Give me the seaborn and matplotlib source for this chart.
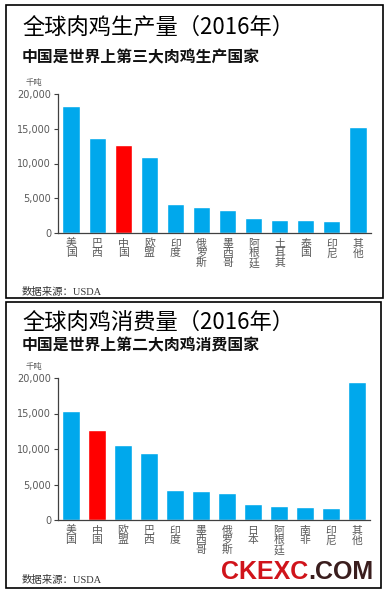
import matplotlib
matplotlib.use("Agg")
import matplotlib.pyplot as plt
import seaborn as sns
import numpy as np
from matplotlib.patches import Rectangle

sns.set_theme(style="white")
plt.rcParams['font.family'] = ['Noto Sans CJK SC', 'DejaVu Sans']

# ---- data ----
prod_cats = ["美国", "巴西", "中国", "欧盟", "印度", "俄罗斯", "墨西哥", "阿根廷", "土耳其", "泰国", "印尼", "其他"]
prod_vals = [18300, 13600, 12700, 11000, 4200, 3700, 3300, 2100, 1900, 1800, 1700, 15300]

cons_cats = ["美国", "中国", "欧盟", "巴西", "印度", "墨西哥", "俄罗斯", "日本", "阿根廷", "南非", "印尼", "其他"]
cons_vals = [15400, 12700, 10600, 9400, 4200, 4100, 3800, 2300, 2000, 1800, 1700, 19500]

titles = ["全球肉鸡生产量（2016年）", "全球肉鸡消费量（2016年）"]
subtitles = ["中国是世界上第三大肉鸡生产国家", "中国是世界上第二大肉鸡消费国家"]
y_ticks = [0, 5000, 10000, 15000, 20000]
y_labels = ["0", "5,000", "10,000", "15,000", "20,000"]
unit = "千吨"
source = "数据来源：USDA"

BLUE = "#00A8EC"
RED = "#FF0000"
GRAY = "#595959"

W, H = 388, 593
fig = plt.figure(figsize=(W / 100, H / 100), dpi=100)
fig.patch.set_facecolor("white")


def fx(px):
    return px / W


def fy(py):
    return 1 - py / H


def panel(box, ax_box, title_y, sub_y, unit_y, src_y, cats, vals, title, subtitle):
    x0, y0, x1, y1 = box
    fig.patches.append(Rectangle((fx(x0), fy(y1)), fx(x1) - fx(x0), fy(y0) - fy(y1),
                                 transform=fig.transFigure, fill=False,
                                 edgecolor="black", linewidth=1.2, zorder=0))
    ax_l, ax_t, ax_r, ax_b = ax_box
    ax = fig.add_axes([fx(ax_l), fy(ax_b), fx(ax_r) - fx(ax_l), fy(ax_t) - fy(ax_b)])
    palette = {c: (RED if c == "中国" else BLUE) for c in cats}
    sns.barplot(x=cats, y=vals, hue=cats, palette=palette, legend=False,
                width=0.66, ax=ax, saturation=1)
    ax.set_xlim(-0.5, len(cats) - 0.5)
    ax.set_ylim(0, 20000)
    ax.set_yticks(y_ticks)
    ax.set_yticklabels(y_labels, fontsize=7, color=GRAY, family=['DejaVu Sans'])
    ax.set_xticks(range(len(cats)))
    ax.set_xticklabels(["\n".join(c) for c in cats], fontsize=7.8, color=GRAY,
                       linespacing=0.95, va="top")
    ax.set_xticks(np.arange(-0.5, len(cats), 1), minor=True)
    ax.tick_params(axis="x", which="major", length=0, pad=4)
    ax.tick_params(axis="x", which="minor", length=3, width=0.8, color="#404040", direction="out")
    ax.tick_params(axis="y", length=3, width=0.8, color="#404040", direction="out", pad=2, left=True)
    for s in ["top", "right"]:
        ax.spines[s].set_visible(False)
    for s in ["left", "bottom"]:
        ax.spines[s].set_color("#404040")
        ax.spines[s].set_linewidth(0.9)
    ax.set_facecolor("none")
    ax.set_xlabel("")
    ax.set_ylabel("")
    fig.text(fx(22), fy(title_y), title, fontsize=16, va="center", ha="left", color="black")
    fig.text(fx(22), fy(sub_y), subtitle, fontsize=11.4, fontweight="bold", va="center", ha="left", color="#111111")
    fig.text(fx(34), fy(unit_y), unit, fontsize=6, va="center", ha="center", color=GRAY)
    fig.text(fx(22), fy(src_y), source, fontsize=7.5, va="center", ha="left", color="#333333",
             family=['Liberation Serif', 'Noto Sans CJK SC'])
    return ax


panel((6, 5, 383, 298), (58, 94, 371, 233), 27, 57, 82, 292, prod_cats, prod_vals, titles[0], subtitles[0])
panel((6, 302, 381, 588), (58, 378, 370, 520), 322, 345, 367, 580, cons_cats, cons_vals, titles[1], subtitles[1])

# watermark
wm_size = 18
t1 = fig.text(fx(221), fy(572), "CKEXC", fontsize=wm_size, fontweight="bold", color="#D0141B",
              va="center", ha="left", family=['Liberation Sans'])
fig.canvas.draw()
r = fig.canvas.get_renderer()
bb = t1.get_window_extent(renderer=r)
t2 = fig.text(bb.x1 / W, fy(572), ".COM", fontsize=wm_size, fontweight="bold", color="#3A1E1E",
              va="center", ha="left", family=['Liberation Sans'])

fig.savefig("out.png", dpi=100)
